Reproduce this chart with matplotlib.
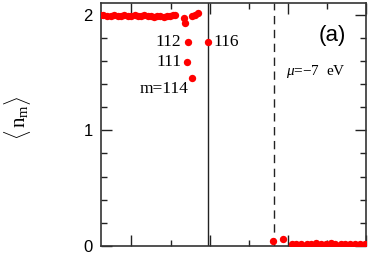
import matplotlib
matplotlib.use('Agg')
import matplotlib.pyplot as plt
from matplotlib.ticker import MultipleLocator

plt.rcParams['mathtext.fontset'] = 'custom'
plt.rcParams['mathtext.rm'] = 'Liberation Serif'
plt.rcParams['mathtext.it'] = 'Liberation Serif:italic'

# occupations (x in arbitrary energy units)
x_occ = [-0.80, -0.72, -0.62, -0.52, -0.45, -0.35, -0.26, -0.18, -0.10, 0.00,
         0.08, 0.16, 0.24, 0.33, 0.41, 0.50, 0.58, 0.66, 0.74, 0.82,
         0.90, 0.98, 1.05, 1.11, 1.34, 1.37, 1.54, 1.62, 1.70]
n_occ = [2.00, 2.00, 1.99, 1.99, 2.00, 1.99, 1.99, 2.00, 1.99, 1.99,
         2.00, 1.99, 1.99, 2.00, 1.99, 1.99, 1.98, 1.99, 1.99, 1.98,
         1.99, 1.99, 2.00, 2.00, 1.97, 1.93, 1.99, 2.00, 2.01]

x_lab = [1.45, 1.96, 1.41, 1.56]
n_lab = [1.76, 1.76, 1.59, 1.455]

x_emp = [3.63, 3.89, 4.10, 4.22, 4.35, 4.48, 4.60, 4.72, 4.85, 4.97, 5.10,
         5.22, 5.35, 5.47, 5.60, 5.72, 5.85, 5.97]
n_emp = [0.04, 0.06, 0.015, 0.015, 0.02, 0.02, 0.02, 0.025, 0.02, 0.02, 0.025,
         0.02, 0.015, 0.015, 0.015, 0.015, 0.015, 0.015]

e_fermi = 1.96
mu = 3.65

fig = plt.figure(figsize=(3.82, 2.54), dpi=100)
ax = fig.add_axes([0.2644, 0.0315, 0.6936, 0.9567])

red = '#ff0000'
ax.scatter(x_occ, n_occ, s=28, color=red, lw=0, zorder=3)
ax.scatter(x_lab, n_lab, s=28, color=red, lw=0, zorder=3)
ax.scatter(x_emp, n_emp, s=28, color=red, lw=0, zorder=3)

ax.axvline(e_fermi, color='#222222', lw=1.0)
ax.axvline(mu, color='#222222', lw=1.0, ls=(0, (6, 4)))

ax.set_xlim(-0.78, 6.0)
ax.set_ylim(0, 2.1)

serif = ['Liberation Serif', 'DejaVu Serif']
ax.text(1.28, 1.767, '112', ha='right', va='center', fontsize=12.5, family=serif)
ax.text(1.28, 1.59, '111', ha='right', va='center', fontsize=12.5, family=serif)
ax.text(1.45, 1.36, 'm=114', ha='right', va='center', fontsize=12.5, family=serif)
ax.text(2.10, 1.767, '116', ha='left', va='center', fontsize=12.5, family=serif)
ax.text(5.15, 1.82, '(a)', ha='center', va='center', fontsize=16,
        family=['Liberation Sans', 'DejaVu Sans'])
ax.text(3.95, 1.51, r'$\mu$=$-$7  eV', ha='left', va='center', fontsize=11,
        family=serif)

ax.set_ylabel(r'$\langle\,\mathrm{n_m}\rangle$', fontsize=15)
ax.yaxis.set_label_coords(-0.255, 0.53)

ax.xaxis.set_major_locator(MultipleLocator(2))
ax.xaxis.set_minor_locator(MultipleLocator(1))
ax.yaxis.set_major_locator(MultipleLocator(1))
ax.yaxis.set_minor_locator(MultipleLocator(0.2))
ax.tick_params(which='both', direction='in', top=True, right=True,
               color='#222222', width=1.0)
ax.tick_params(which='major', length=8)
ax.tick_params(which='minor', length=4.5)
ax.tick_params(axis='x', labelbottom=False)
ax.tick_params(axis='y', labelsize=12, pad=6)
for lab in ax.get_yticklabels():
    lab.set_family(['Liberation Sans', 'DejaVu Sans'])
for sp in ax.spines.values():
    sp.set_color('#333333')
    sp.set_linewidth(1.2)

fig.savefig('out.png', dpi=100)
